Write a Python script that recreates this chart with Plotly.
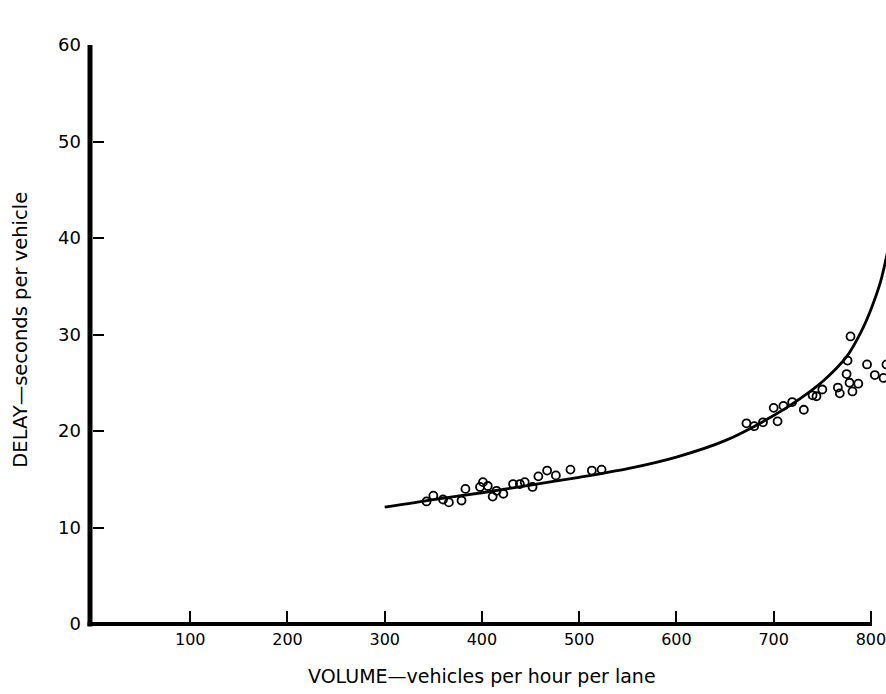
import plotly.graph_objects as go

# Observed delay points (volume, delay)
vol_obs = [343, 350, 360, 366, 379, 383, 398, 401, 406, 411, 415, 422, 432, 439, 444,
           452, 458, 467, 476, 491, 513, 523,
           672, 680, 689, 700, 704, 710, 719, 731, 740, 744, 750, 766, 768, 775, 778,
           781, 787, 776, 779, 796, 804, 813, 816]
delay_obs = [12.7, 13.3, 12.9, 12.6, 12.8, 14.0, 14.2, 14.7, 14.3, 13.2, 13.8, 13.5, 14.5, 14.5, 14.7,
             14.2, 15.3, 15.9, 15.4, 16.0, 15.9, 16.0,
             20.8, 20.5, 20.9, 22.4, 21.0, 22.6, 23.0, 22.2, 23.7, 23.6, 24.3, 24.5, 23.9, 25.9, 25.0,
             24.1, 24.9, 27.3, 29.8, 26.9, 25.8, 25.5, 26.9]

# Fitted curve
curve_vol = [300, 350, 400, 450, 500, 550, 600, 650, 700, 725, 750, 775, 790, 800, 810, 818]
curve_delay = [12.1, 12.9, 13.6, 14.4, 15.2, 16.1, 17.3, 19.0, 21.6, 23.2, 25.1, 27.7, 30.3, 32.6, 35.5, 39.0]

x_ticks = [100, 200, 300, 400, 500, 600, 700, 800]
x_ticktext = ["100", "200", "300", "400", "500", "600", "700", "800"]
y_ticks = [0, 10, 20, 30, 40, 50, 60]
y_ticktext = ["0", "10", "20", "30", "40", "50", "60"]

W, H = 886, 694
ML, MR, MT, MB = 93, 0, 45, 70
PW = W - ML - MR
PH = H - MT - MB
X_MAX = PW / 0.9724
FONT = "DejaVu Sans"

fig = go.Figure()
fig.add_trace(go.Scatter(x=curve_vol, y=curve_delay, mode="lines",
                         line=dict(color="black", width=2.8, shape="spline", smoothing=0.8),
                         hoverinfo="skip"))
fig.add_trace(go.Scatter(x=vol_obs, y=delay_obs, mode="markers",
                         marker=dict(symbol="circle-open", size=8, color="black",
                                     line=dict(width=1.8, color="black"))))

fig.update_layout(
    width=W, height=H,
    margin=dict(l=ML, r=MR, t=MT, b=MB),
    paper_bgcolor="white", plot_bgcolor="white",
    showlegend=False,
    xaxis=dict(range=[0, X_MAX], tickvals=x_ticks, ticktext=x_ticktext,
               ticks="inside", ticklen=13, tickwidth=1.5, tickcolor="black",
               showgrid=False, zeroline=False, showline=False,
               tickfont=dict(family=FONT, size=16, color="black"),
               ticklabelstandoff=4, ticklabeloverflow="allow"),
    yaxis=dict(range=[0, 60], tickvals=y_ticks, ticktext=y_ticktext,
               ticks="inside", ticklen=11, tickwidth=1.5, tickcolor="black",
               showgrid=False, zeroline=False, showline=False,
               tickfont=dict(family=FONT, size=18, color="black"),
               ticklabelstandoff=11),
    shapes=[
        dict(type="line", xref="paper", yref="paper",
             x0=-3 / PW, x1=-3 / PW, y0=-2.5 / PH, y1=1,
             line=dict(color="black", width=5)),
        dict(type="line", xref="paper", yref="paper",
             x0=-5.5 / PW, x1=800 / X_MAX + 1 / PW, y0=0, y1=0,
             line=dict(color="black", width=4)),
    ],
    annotations=[
        dict(text="VOLUME\u2014vehicles per hour per lane", xref="x", yref="paper",
             x=400, y=-(676 - (H - MB)) / PH, xanchor="center", yanchor="middle",
             showarrow=False, font=dict(family=FONT, size=19, color="black")),
        dict(text="DELAY\u2014seconds per vehicle", xref="paper", yref="y",
             x=(21 - ML) / PW, y=30.5, xanchor="center", yanchor="middle",
             textangle=-90, showarrow=False,
             font=dict(family=FONT, size=19.5, color="black")),
    ],
)

fig.write_html("out.html", config={"displayModeBar": False},
               post_script="document.body.style.margin='0px';document.body.style.overflow='hidden';")
